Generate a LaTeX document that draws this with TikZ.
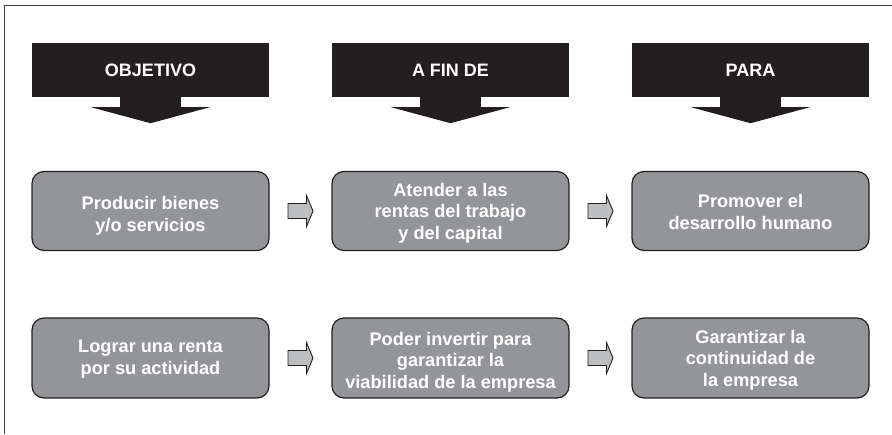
\documentclass[tikz,border=0pt]{standalone}
\usepackage{fontspec}
\setmainfont{Liberation Sans}
\usetikzlibrary{calc}
\definecolor{hdr}{HTML}{231F20}
\definecolor{boxfill}{HTML}{939598}
\definecolor{arrfill}{HTML}{BCBEC0}
\definecolor{edge}{HTML}{231F20}
\tikzset{
  hdrbox/.style={fill=hdr, draw=none, minimum width=237pt, minimum height=54pt, inner sep=0pt,
    text=white, font=\bfseries\fontsize{18}{21.5}\selectfont},
  stepbox/.style={rounded corners=12pt, fill=boxfill, draw=edge, line width=1.2pt,
    minimum width=237pt, minimum height=79pt, inner sep=0pt},
  steptext/.style={inner sep=0pt, align=center,
    text=white, font=\bfseries\fontsize{18.2}{21.5}\selectfont},
  smallarrow/.style={fill=arrfill, draw=edge, line width=0.9pt, line join=miter},
  frameline/.style={draw=hdr!85, line width=1.3pt}
}
\begin{document}
\begin{tikzpicture}[x=1pt,y=-1pt]
\useasboundingbox (0,0) rectangle (892,434);
% frame (left and top edges visible)
\coordinate (ftr) at (892,5.7);
\coordinate (ftl) at (4.3,5.7);
\coordinate (fbl) at (4.3,434);
\draw[frameline] (ftr) -- (ftl) -- (fbl);

% headers
\foreach \n/\cx/\t in {h1/150.5/OBJETIVO, h2/450.5/A FIN DE, h3/750.5/PARA}{
  \node[hdrbox] (\n) at (\cx,70) {\t};
  \fill[hdr] ($(\n.south)+(-30.5,-1)$) rectangle ($(\n.south)+(30.5,11)$);
  \fill[hdr] ($(\n.south)+(-59.5,10)$) -- ($(\n.south)+(59.5,10)$) -- ($(\n.south)+(0,26)$) -- cycle;
}

% row 1
\node[stepbox] (a1) at (150.5,211) {};
\node[stepbox] (a2) at (450.5,211) {};
\node[stepbox] (a3) at (750.5,211) {};
% row 2
\node[stepbox, minimum height=80pt] (b1) at (150.5,358) {};
\node[stepbox, minimum height=80pt] (b2) at (450.5,358) {};
\node[stepbox, minimum height=80pt] (b3) at (750.5,358) {};

\node[steptext] (a1t) at ($(a1.center)+(0,5)$) {Producir bienes\\y/o servicios};
\node[steptext] (a2t) at ($(a2.center)+(0,2)$) {Atender a las\\rentas del trabajo\\y del capital};
\node[steptext] (a3t) at ($(a3.center)+(0,1)$) {Promover el\\desarrollo humano};
\node[steptext] (b1t) at ($(b1.center)+(0,1)$) {Lograr una renta\\por su actividad};
\node[steptext] (b2t) at ($(b2.center)+(0,4)$) {Poder invertir para\\garantizar la\\viabilidad de la empresa};
\node[steptext] (b3t) at ($(b3.center)+(0,2)$) {Garantizar la\\continuidad de\\la empresa};

% small arrows between boxes
\foreach \l/\r in {a1/a2, a2/a3, b1/b2, b2/b3}{
  \path ($(\l.east)!0.5!(\r.west)$) coordinate (m\l);
  \draw[smallarrow] ($(m\l)+(-12.5,-7.5)$) -- ($(m\l)+(6,-7.5)$) -- ($(m\l)+(6,-15.5)$)
    -- ($(m\l)+(12.5,0)$) -- ($(m\l)+(6,15.5)$) -- ($(m\l)+(6,7.5)$)
    -- ($(m\l)+(-12.5,7.5)$) -- cycle;
}
\end{tikzpicture}
\end{document}
